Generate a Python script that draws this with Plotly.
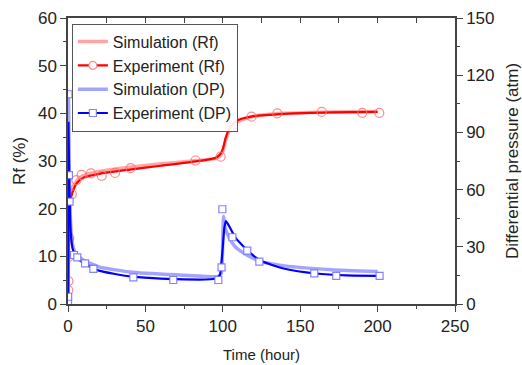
import plotly.graph_objects as go

# ---- Data ----
# Rf experiment markers (time h, Rf %)
rf_exp_t = [0.2, 0.3, 0.5, 0.8, 2.5, 5.4, 8.8, 14.8, 21.8, 30.4, 40.5, 82.4, 98.6, 105.5, 118.6, 135.2, 163.9, 190.1, 201.1]
rf_exp_v = [2.9, 4.8, 9.9, 13.8, 23.0, 26.0, 27.1, 27.4, 26.9, 27.5, 28.5, 30.1, 30.9, 37.1, 39.3, 40.0, 40.3, 40.1, 40.1]
# Rf experiment fitted curve
rf_expc_t = [0, 0.5, 1.5, 3, 6, 10, 20, 40, 60, 80, 95, 98, 100, 102, 105, 110, 120, 140, 170, 200]
rf_expc_v = [0, 12, 21.5, 23.5, 25.5, 26.5, 27.3, 28.2, 29.0, 29.8, 30.6, 31.3, 32.5, 35.0, 37.3, 38.6, 39.4, 39.9, 40.2, 40.3]
# Rf simulation curve
rf_sim_t = [0, 0.5, 1.5, 3, 6, 10, 20, 40, 60, 80, 95, 98, 100, 102, 105, 110, 120, 140, 170, 200]
rf_sim_v = [0, 15, 22.5, 24.5, 26.0, 27.0, 27.8, 28.7, 29.4, 30.0, 30.5, 31.0, 32.0, 34.5, 36.8, 38.3, 39.4, 40.0, 40.3, 40.4]

# DP experiment markers (time h, atm)
dp_exp_t = [0.0, 0.1, 0.3, 0.6, 1.0, 3.9, 6.0, 11.0, 16.4, 42.2, 68.0, 97.1, 99.2, 99.7, 106.2, 115.8, 123.6, 159.1, 173.3, 201.3]
dp_exp_v = [1.2, 3.8, 110.0, 67.6, 53.7, 25.7, 24.5, 21.3, 18.4, 14.0, 12.6, 12.6, 19.2, 49.7, 35.0, 28.0, 22.2, 16.1, 14.7, 14.8]
# DP experiment fitted curve
dp_expc_t = [0, 0.3, 1, 2, 3, 5, 10, 20, 40, 70, 95, 98, 99.5, 101, 102, 104, 108, 116, 125, 140, 160, 180, 200]
dp_expc_v = [0, 95, 55, 35, 29, 25, 21.5, 17.5, 14.5, 13.0, 13.2, 15.0, 25.0, 40.0, 43.5, 41.0, 35.0, 28.0, 22.5, 18.5, 16.0, 15.0, 14.8]
# DP simulation curve
dp_sim_t = [0, 0.3, 1, 2, 3, 5, 10, 20, 40, 70, 97, 99, 100, 100.5, 101.5, 104, 108, 115, 124, 140, 170, 200]
dp_sim_v = [0, 110, 60, 38, 31, 26.5, 23.0, 19.5, 16.8, 15.3, 14.5, 16.0, 35.0, 46.0, 40.0, 35.0, 30.0, 26.0, 22.5, 20.0, 18.0, 17.0]

# ---- Styles ----
RED = "#ff0000"
RED_L = "rgba(255,90,90,0.55)"
RED_M = "rgba(255,110,110,0.8)"
BLUE = "#0000ff"
BLUE_L = "rgba(90,90,255,0.55)"
BLUE_M = "rgba(110,110,255,0.85)"
FONT = "Arial, Liberation Sans, sans-serif"
AXC = "#444444"

fig = go.Figure()

# data traces (no legend)
fig.add_trace(go.Scatter(x=rf_sim_t, y=rf_sim_v, mode="lines", line=dict(color=RED_L, width=3.5, shape="spline", smoothing=0.6),
                         showlegend=False, yaxis="y"))
fig.add_trace(go.Scatter(x=rf_expc_t, y=rf_expc_v, mode="lines", line=dict(color=RED, width=2.2, shape="spline", smoothing=0.6),
                         showlegend=False, yaxis="y"))
fig.add_trace(go.Scatter(x=rf_exp_t, y=rf_exp_v, mode="markers",
                         marker=dict(symbol="circle-open", size=9, color=RED_M, line=dict(width=1.2)),
                         showlegend=False, yaxis="y"))
fig.add_trace(go.Scatter(x=dp_sim_t, y=dp_sim_v, mode="lines", line=dict(color=BLUE_L, width=3.5, shape="spline", smoothing=0.5),
                         showlegend=False, yaxis="y2"))
fig.add_trace(go.Scatter(x=dp_expc_t, y=dp_expc_v, mode="lines", line=dict(color=BLUE, width=2.2, shape="spline", smoothing=0.5),
                         showlegend=False, yaxis="y2"))
fig.add_trace(go.Scatter(x=dp_exp_t, y=dp_exp_v, mode="markers",
                         marker=dict(symbol="square", size=7, color="white", line=dict(width=1.2, color=BLUE_M)),
                         showlegend=False, yaxis="y2"))

# legend entries
fig.add_trace(go.Scatter(x=[None], y=[None], mode="lines", name="Simulation (Rf)", line=dict(color=RED_L, width=3.5)))
fig.add_trace(go.Scatter(x=[None], y=[None], mode="lines+markers", name="Experiment (Rf)", line=dict(color=RED, width=2.2),
                         marker=dict(symbol="circle", size=8, color="white", line=dict(width=1.2, color=RED_M))))
fig.add_trace(go.Scatter(x=[None], y=[None], mode="lines", name="Simulation (DP)", line=dict(color=BLUE_L, width=3.5)))
fig.add_trace(go.Scatter(x=[None], y=[None], mode="lines+markers", name="Experiment (DP)", line=dict(color=BLUE, width=2.2),
                         marker=dict(symbol="square", size=7, color="white", line=dict(width=1.2, color=BLUE_M))))
# top axis helper
fig.add_trace(go.Scatter(x=[None], y=[None], xaxis="x2", showlegend=False, hoverinfo="skip"))

fig.update_layout(
    width=522, height=365,
    margin=dict(l=68, r=67, t=18, b=61),
    paper_bgcolor="white", plot_bgcolor="white",
    font=dict(family=FONT, color="#222222", size=17),
    showlegend=True,
    legend=dict(x=0.01, y=0.98, xanchor="left", yanchor="top",
                bordercolor="#555555", borderwidth=1, bgcolor="rgba(255,255,255,0.9)",
                font=dict(size=16, family=FONT, color="#222222"),
                tracegroupgap=0, itemwidth=30),
    xaxis=dict(range=[0, 250], dtick=50, tick0=0, ticks="outside", ticklen=6, tickwidth=1.3, tickcolor=AXC,
               showline=True, linecolor=AXC, linewidth=1.5, showgrid=False, zeroline=False, automargin=False,
               minor=dict(dtick=25, ticks="outside", ticklen=3.5, tickcolor=AXC, tickwidth=1.3),
               title=dict(text="Time (hour)", font=dict(size=15), standoff=14),
               tickfont=dict(size=17)),
    xaxis2=dict(range=[0, 250], overlaying="x", side="top", anchor="y", dtick=25, tick0=0, ticks="inside", ticklen=5,
                tickwidth=1.3, tickcolor=AXC, showline=True, linecolor=AXC, linewidth=1.5, automargin=False,
                showticklabels=False, showgrid=False, zeroline=False),
    yaxis=dict(range=[0, 60], dtick=10, tick0=0, ticks="outside", ticklen=6, tickwidth=1.3, tickcolor=AXC,
               showline=True, linecolor=AXC, linewidth=1.5, showgrid=False, zeroline=False, automargin=False,
               minor=dict(dtick=5, ticks="outside", ticklen=3.5, tickcolor=AXC, tickwidth=1.3),
               title=dict(text="Rf (%)", font=dict(size=17), standoff=8),
               tickfont=dict(size=17)),
    yaxis2=dict(range=[0, 150], dtick=30, tick0=0, overlaying="y", side="right", anchor="x",
                ticks="outside", ticklen=6, tickwidth=1.3, tickcolor=AXC, automargin=False,
                showline=True, linecolor=AXC, linewidth=1.5, showgrid=False, zeroline=False,
                minor=dict(dtick=15, ticks="outside", ticklen=3.5, tickcolor=AXC, tickwidth=1.3),
                title=dict(text="Differential pressure (atm)", font=dict(size=17), standoff=14),
                tickfont=dict(size=17)),
)

fig.write_html("out.html", config={"displayModeBar": False},
               post_script="document.body.style.margin='0';document.body.style.overflow='hidden';")
